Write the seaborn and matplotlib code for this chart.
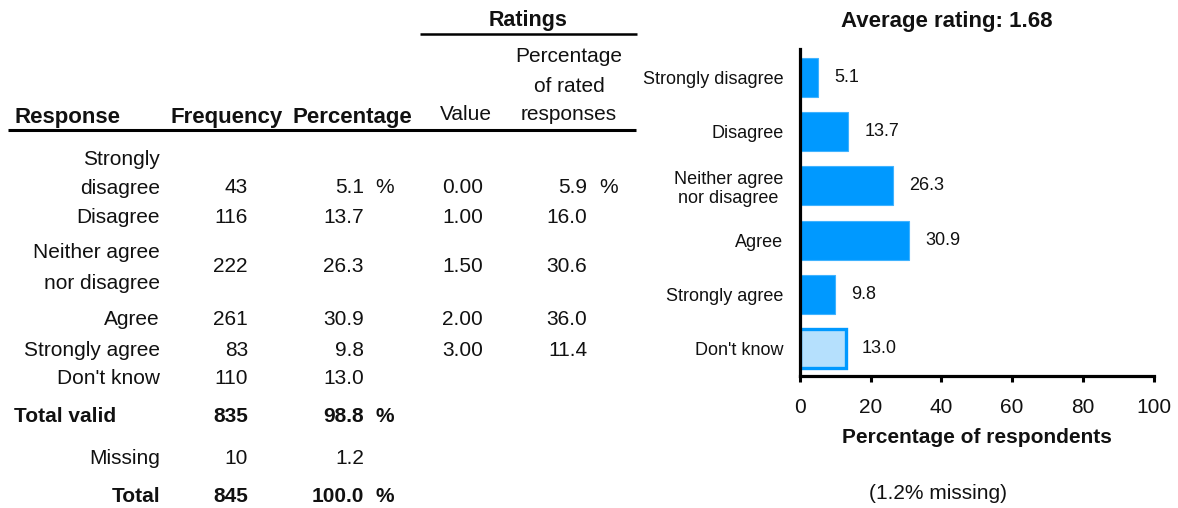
import matplotlib
matplotlib.use("Agg")
import matplotlib.pyplot as plt
import seaborn as sns
import pandas as pd

# ---- data -------------------------------------------------------------
responses = ["Strongly disagree", "Disagree", "Neither agree\nnor disagree",
             "Agree", "Strongly agree", "Don't know"]
frequency = [43, 116, 222, 261, 83, 110]
percentage = [5.1, 13.7, 26.3, 30.9, 9.8, 13.0]
rating_value = [0.00, 1.00, 1.50, 2.00, 3.00]
rated_percentage = [5.9, 16.0, 30.6, 36.0, 11.4]
total_valid = (835, 98.8)
missing = (10, 1.2)
total = (845, 100.0)
average_rating = 1.68

# table row labels (split over lines as printed)
table_labels = [["Strongly", "disagree"], ["Disagree"], ["Neither agree", "nor disagree"],
                ["Agree"], ["Strongly agree"], ["Don't know"]]

BLUE = "#0099FF"
LIGHT_BLUE = "#B5E0FD"

sns.set_theme(style="white")
plt.rcParams["font.family"] = ["Liberation Sans", "DejaVu Sans"]

fig = plt.figure(figsize=(11.78, 5.08), dpi=100)

# ---- bar chart --------------------------------------------------------
W, H = 1178, 508
ax = fig.add_axes([800 / W, 1 - 376 / H, 353.5 / W, (376 - 49) / H])

df = pd.DataFrame({"response": responses, "pct": percentage})
colors = [BLUE] * 5 + [LIGHT_BLUE]
sns.barplot(data=df, x="pct", y="response", hue="response", palette=colors,
            legend=False, orient="h", width=0.72, saturation=1, ax=ax)

for patch in ax.patches:
    yc = patch.get_y() + patch.get_height() / 2
    if abs(yc - 5) < 0.2:
        patch.set_edgecolor(BLUE)
        patch.set_linewidth(2.4)
    else:
        patch.set_edgecolor("#40B3FF")
        patch.set_linewidth(0.8)

for i, v in enumerate(percentage):
    ax.annotate(f"{v:.1f}", xy=(v, i), xytext=(16, 0), textcoords="offset pixels",
                ha="left", va="center", fontsize=13, color="#111111")

ax.set_xlim(0, 100)
ax.set_ylim(5.5, -0.52)
ax.set_xticks(range(0, 101, 20))
ax.set_xlabel("Percentage of respondents", fontsize=15, fontweight="bold",
              labelpad=8, color="#111111")
ax.set_ylabel("")
sns.despine(ax=ax)
for side in ("left", "bottom"):
    ax.spines[side].set_linewidth(2.3)
    ax.spines[side].set_color("black")
ax.tick_params(axis="x", direction="out", length=4.5, width=2.2, color="black",
               labelsize=15, pad=11, bottom=True, labelcolor="#111111")
ax.tick_params(axis="y", length=0, pad=12, labelsize=13, labelcolor="#111111")
for lab in ax.get_yticklabels():
    lab.set_multialignment("center")
ax.grid(False)

# ---- table overlay in pixel coordinates -------------------------------
ov = fig.add_axes([0, 0, 1, 1], zorder=-1)
ov.set_xlim(0, W)
ov.set_ylim(H, 0)
ov.axis("off")

PX = 100 / 72


def put(x, y, s, size=15, ha="left", bold=False):
    """Place text whose visual (cap-height) centre sits at pixel y."""
    ov.text(x, y + 0.358 * size * PX, s, fontsize=size, ha=ha, va="baseline",
            fontweight="bold" if bold else "normal", color="#111111")


# headings
put(528, 18, "Ratings", size=15.5, ha="center", bold=True)
ov.plot([420, 637], [34, 34], color="black", lw=1.8, solid_capstyle="butt")
put(14, 115, "Response", size=16, bold=True)
put(171, 115, "Frequency", size=16, bold=True)
put(293, 115, "Percentage", size=16, bold=True)
put(466, 113, "Value", ha="center")
for yy, s in zip([55, 85, 113], ["Percentage", "of rated", "responses"]):
    put(569, yy, s, ha="center")
ov.plot([8, 636], [130, 130], color="black", lw=2.2, solid_capstyle="butt")

# body rows
label_y = [[158, 187], [216], [251, 282], [318], [349], [377]]
value_y = [186, 216, 265, 318, 349, 377]
X_LAB, X_FREQ, X_PCT, X_PSIGN, X_VAL, X_RATED, X_RSIGN = 160, 248, 364, 375, 483, 587, 599

for i, lines in enumerate(table_labels):
    for s, yy in zip(lines, label_y[i]):
        put(X_LAB, yy, s, ha="right")
    yv = value_y[i]
    put(X_FREQ, yv, f"{frequency[i]}", ha="right")
    put(X_PCT, yv, f"{percentage[i]:.1f}", ha="right")
    if i == 0:
        put(X_PSIGN, yv, "%")
    if i < len(rating_value):
        put(X_VAL, yv, f"{rating_value[i]:.2f}", ha="right")
        put(X_RATED, yv, f"{rated_percentage[i]:.1f}", ha="right")
        if i == 0:
            put(X_RSIGN, yv, "%")

put(14, 415, "Total valid", bold=True)
put(X_FREQ, 415, f"{total_valid[0]}", ha="right", bold=True)
put(X_PCT, 415, f"{total_valid[1]:.1f}", ha="right", bold=True)
put(X_PSIGN, 415, "%", bold=True)

put(X_LAB, 457, "Missing", ha="right")
put(X_FREQ, 457, f"{missing[0]}", ha="right")
put(X_PCT, 457, f"{missing[1]:.1f}", ha="right")

put(X_LAB, 495, "Total", ha="right", bold=True)
put(X_FREQ, 495, f"{total[0]}", ha="right", bold=True)
put(X_PCT, 495, f"{total[1]:.1f}", ha="right", bold=True)
put(X_PSIGN, 495, "%", bold=True)

# chart title and note
put(947, 19, f"Average rating: {average_rating:.2f}", size=16, ha="center", bold=True)
put(938, 492, f"({missing[1]:.1f}% missing)", ha="center")

fig.savefig("out.png", dpi=100)
